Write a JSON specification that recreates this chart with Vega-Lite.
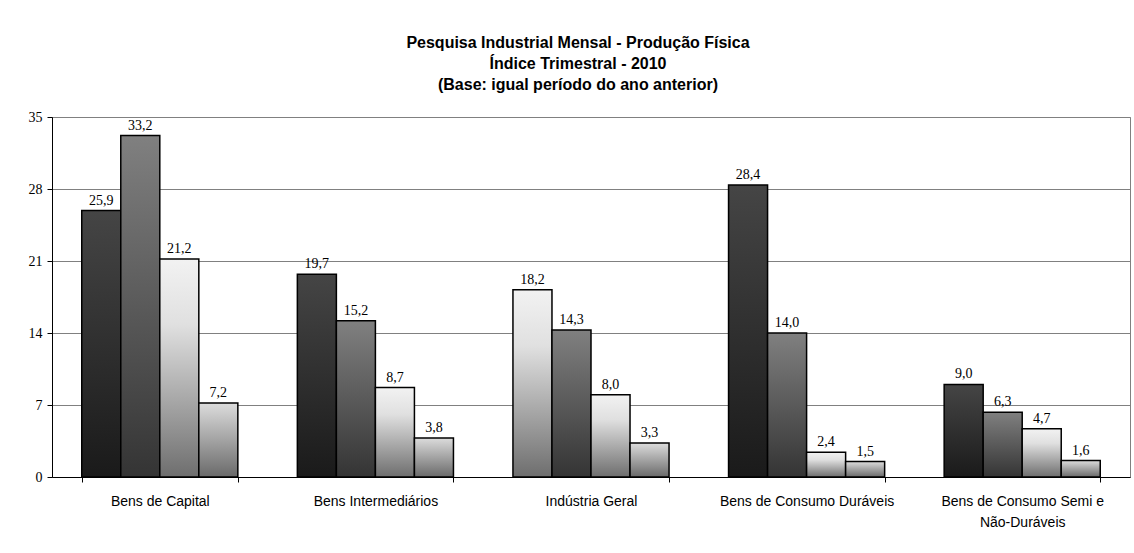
{
  "$schema": "https://vega.github.io/schema/vega-lite/v6.json",
  "autosize": {"type": "none"},
  "width": 1078,
  "height": 360,
  "padding": {"left": 52, "top": 117, "right": 4, "bottom": 76},
  "background": "white",
  "config": {
    "locale": {"number": {"decimal": ",", "thousands": ".", "grouping": [3], "currency": ["R$", ""]}},
    "view": {"stroke": "#808080", "strokeWidth": 1}
  },
  "title": {
    "text": ["Pesquisa Industrial Mensal - Produção Física", "Índice Trimestral - 2010", "(Base: igual período do ano anterior)"],
    "font": "Liberation Sans",
    "fontSize": 16,
    "fontWeight": "bold",
    "color": "black",
    "lineHeight": 21,
    "anchor": "middle",
    "frame": "group",
    "offset": 17,
    "dx": -13
  },
  "data": {
    "values": [
      {"categoria": "Bens de Capital", "trimestre": "1º trimestre", "valor": 25.9},
      {"categoria": "Bens de Capital", "trimestre": "2º trimestre", "valor": 33.2},
      {"categoria": "Bens de Capital", "trimestre": "3º trimestre", "valor": 21.2},
      {"categoria": "Bens de Capital", "trimestre": "4º trimestre", "valor": 7.2},
      {"categoria": "Bens Intermediários", "trimestre": "1º trimestre", "valor": 19.7},
      {"categoria": "Bens Intermediários", "trimestre": "2º trimestre", "valor": 15.2},
      {"categoria": "Bens Intermediários", "trimestre": "3º trimestre", "valor": 8.7},
      {"categoria": "Bens Intermediários", "trimestre": "4º trimestre", "valor": 3.8},
      {"categoria": "Indústria Geral", "trimestre": "1º trimestre", "valor": 18.2},
      {"categoria": "Indústria Geral", "trimestre": "2º trimestre", "valor": 14.3},
      {"categoria": "Indústria Geral", "trimestre": "3º trimestre", "valor": 8.0},
      {"categoria": "Indústria Geral", "trimestre": "4º trimestre", "valor": 3.3},
      {"categoria": "Bens de Consumo Duráveis", "trimestre": "1º trimestre", "valor": 28.4},
      {"categoria": "Bens de Consumo Duráveis", "trimestre": "2º trimestre", "valor": 14.0},
      {"categoria": "Bens de Consumo Duráveis", "trimestre": "3º trimestre", "valor": 2.4},
      {"categoria": "Bens de Consumo Duráveis", "trimestre": "4º trimestre", "valor": 1.5},
      {"categoria": "Bens de Consumo Semi e Não-Duráveis", "trimestre": "1º trimestre", "valor": 9.0},
      {"categoria": "Bens de Consumo Semi e Não-Duráveis", "trimestre": "2º trimestre", "valor": 6.3},
      {"categoria": "Bens de Consumo Semi e Não-Duráveis", "trimestre": "3º trimestre", "valor": 4.7},
      {"categoria": "Bens de Consumo Semi e Não-Duráveis", "trimestre": "4º trimestre", "valor": 1.6}
    ]
  },
  "encoding": {
    "x": {
      "field": "categoria",
      "type": "nominal",
      "sort": null,
      "scale": {"paddingInner": 0.276, "paddingOuter": 0.138},
      "axis": {
        "title": null,
        "labelAngle": 0,
        "labelFont": "Liberation Sans",
        "labelFontSize": 14,
        "labelColor": "black",
        "labelPadding": 12,
        "labelLineHeight": 21,
        "labelBaseline": "top",
        "labelExpr": "datum.label == 'Bens de Consumo Semi e Não-Duráveis' ? ['Bens de Consumo Semi e', 'Não-Duráveis'] : datum.label",
        "domainColor": "black",
        "domainWidth": 1,
        "tickColor": "black",
        "tickSize": 5,
        "tickBand": "extent",
        "grid": false
      }
    },
    "xOffset": {"field": "trimestre", "type": "nominal", "sort": null, "scale": {"paddingInner": 0, "paddingOuter": 0}},
    "y": {
      "field": "valor",
      "type": "quantitative",
      "scale": {"domain": [0, 35], "nice": false},
      "axis": {
        "title": null,
        "values": [0, 7, 14, 21, 28, 35],
        "labelFont": "Liberation Serif",
        "labelFontSize": 14,
        "labelColor": "black",
        "labelPadding": 5,
        "domainColor": "black",
        "tickColor": "black",
        "tickSize": 5,
        "gridColor": "#808080",
        "gridWidth": 1
      }
    }
  },
  "layer": [
    {
      "mark": {"type": "bar", "stroke": "black", "strokeWidth": 1.5},
      "encoding": {
        "fill": {
          "condition": [
            {
              "test": "datum.trimestre == '1º trimestre' && datum.categoria != 'Indústria Geral'",
              "value": {"gradient": "linear", "x1": 0, "y1": 0, "x2": 0, "y2": 1, "stops": [{"offset": 0, "color": "#454545"}, {"offset": 1, "color": "#1a1a1a"}]}
            },
            {
              "test": "datum.trimestre == '2º trimestre'",
              "value": {"gradient": "linear", "x1": 0, "y1": 0, "x2": 0, "y2": 1, "stops": [{"offset": 0, "color": "#808080"}, {"offset": 1, "color": "#343434"}]}
            },
            {
              "test": "datum.trimestre == '3º trimestre' || (datum.trimestre == '1º trimestre' && datum.categoria == 'Indústria Geral')",
              "value": {"gradient": "linear", "x1": 0, "y1": 0, "x2": 0, "y2": 1, "stops": [{"offset": 0, "color": "#f2f2f2"}, {"offset": 0.3, "color": "#e0e0e0"}, {"offset": 1, "color": "#6e6e6e"}]}
            }
          ],
          "value": {"gradient": "linear", "x1": 0, "y1": 0, "x2": 0, "y2": 1, "stops": [{"offset": 0, "color": "#dcdcdc"}, {"offset": 1, "color": "#6a6a6a"}]}
        }
      }
    },
    {
      "mark": {"type": "text", "baseline": "bottom", "dy": -3, "font": "Liberation Serif", "fontSize": 14, "color": "black"},
      "encoding": {
        "text": {"field": "valor", "type": "quantitative", "format": ".1f"}
      }
    }
  ]
}
